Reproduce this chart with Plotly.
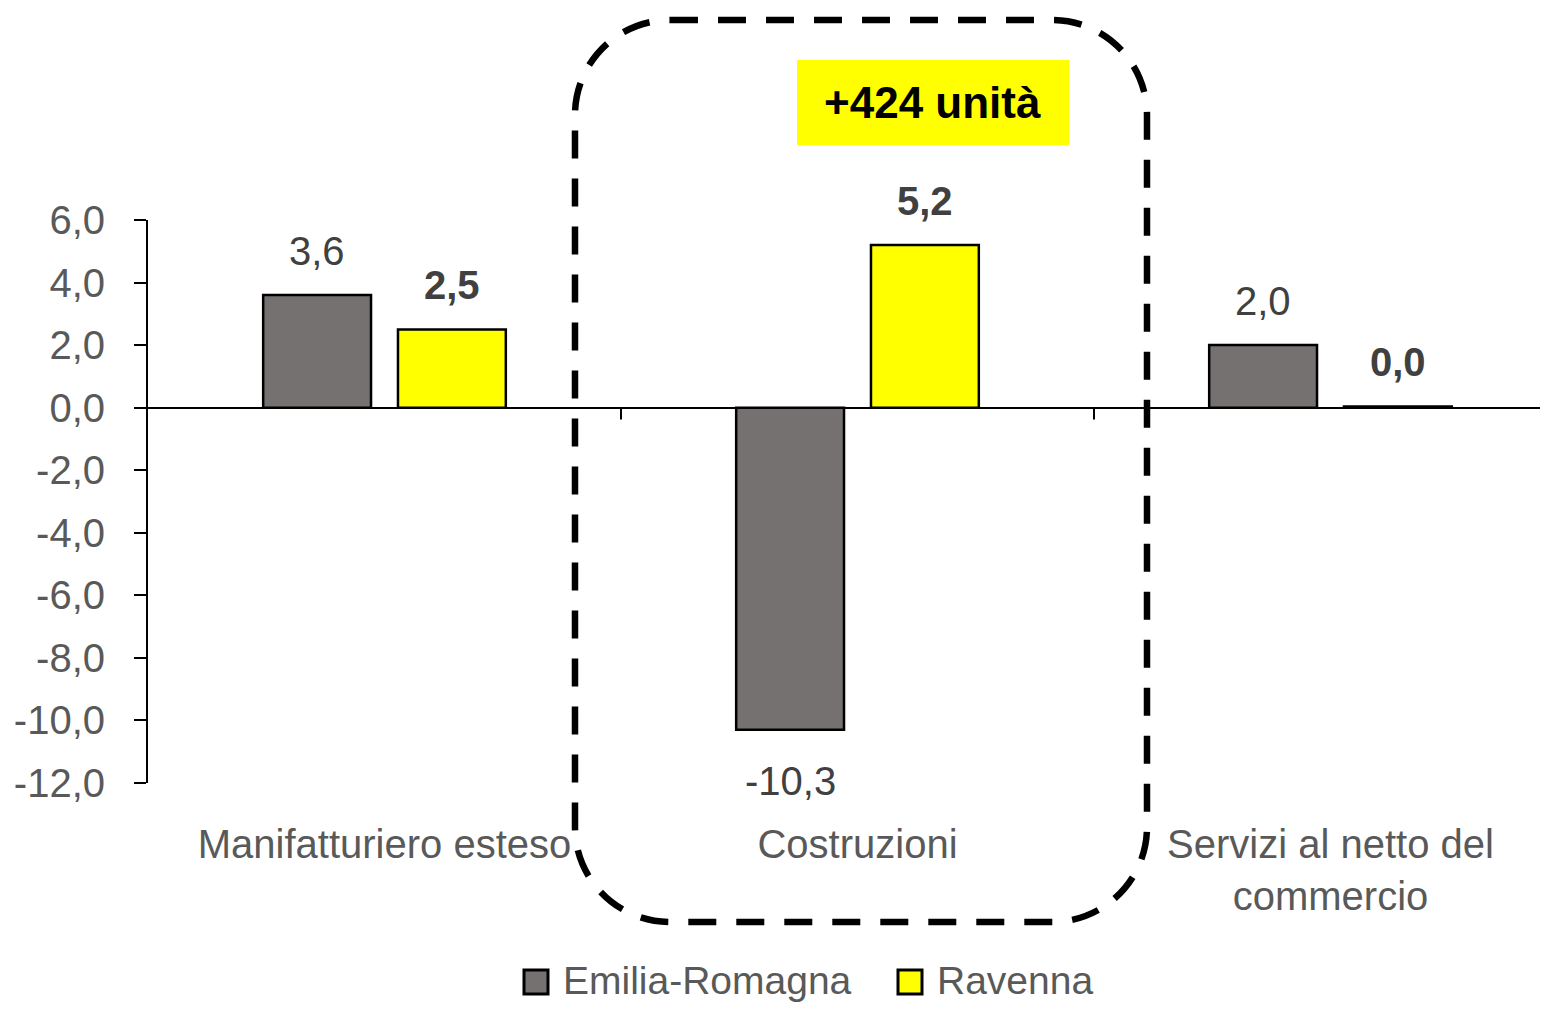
import plotly.graph_objects as go

# ---------------- data ----------------
categories = ["Manifatturiero esteso", "Costruzioni", "Servizi al netto del<br>commercio"]
series_names = ["Emilia-Romagna", "Ravenna"]
emilia_romagna = [3.6, -10.3, 2.0]
ravenna = [2.5, 5.2, 0.04]
y_tick_values = [6, 4, 2, 0, -2, -4, -6, -8, -10, -12]
y_tick_labels = ["6,0", "4,0", "2,0", "0,0", "-2,0", "-4,0", "-6,0", "-8,0", "-10,0", "-12,0"]
callout_text = "+424 unità"

# ---------------- styling ----------------
FONT = "Liberation Sans, Arial, sans-serif"
FS = 40
OFF = 8  # page body margin
W, H = 1532, 996
ML, MR, MT, MB = 140, 0, 212, 221
PW, PH = W - ML - MR, H - MT - MB
ER_COLOR = "#767171"
RA_COLOR = "#FFFF00"
TICK_COLOR = "#595959"
LABEL_COLOR = "#404040"
series_colors = [ER_COLOR, RA_COLOR]


def fmt(v):
    return f"{v:.1f}".replace(".", ",")


def px(x):  # screenshot pixel -> paper x
    return (x - OFF - ML) / PW


def py(y):  # screenshot pixel -> paper y
    return (H - MB - (y - OFF)) / PH


fig = go.Figure()
for name, vals, color in zip(series_names, [emilia_romagna, ravenna], series_colors):
    fig.add_trace(go.Bar(
        x=categories, y=vals, name=name,
        marker=dict(color=color, line=dict(color="black", width=2.5)),
        showlegend=False, hoverinfo="skip",
    ))

annotations = []
shapes = []
slot_px = 135
for vals, sign, bold in [(emilia_romagna, -1, False), (ravenna, 1, True)]:
    for c, v in zip(categories, vals):
        t = fmt(v)
        annotations.append(dict(
            x=c, y=v, xref="x", yref="y", showarrow=False,
            text=f"<b>{t}</b>" if bold else t,
            xshift=sign * slot_px / 2,
            yshift=44 if v >= 0 else -51,
            yanchor="middle", xanchor="center",
            font=dict(family=FONT, size=FS, color=LABEL_COLOR),
        ))

# callout
annotations.append(dict(
    x=px(933), y=py(103), xref="paper", yref="paper", showarrow=False,
    text=f"<b>{callout_text}</b>", xanchor="center", yanchor="middle",
    font=dict(family=FONT, size=44, color="black"),
))
shapes.append(dict(type="rect", xref="paper", yref="paper",
                   x0=px(797), x1=px(1069), y0=py(145), y1=py(60),
                   fillcolor=RA_COLOR, line=dict(width=0), layer="below"))

# legend (drawn manually so the swatches match the original size)
legend_items_x = [524, 898]
for name, color, lx in zip(series_names, series_colors, legend_items_x):
    shapes.append(dict(type="rect", xref="paper", yref="paper",
                       x0=px(lx), x1=px(lx + 24), y0=py(994), y1=py(970),
                       fillcolor=color, line=dict(color="black", width=3)))
    annotations.append(dict(
        x=px(lx + 37), y=py(980), xref="paper", yref="paper", showarrow=False,
        text=name, xanchor="left", yanchor="middle",
        font=dict(family=FONT, size=39, color=TICK_COLOR),
    ))

# dashed rounded rectangle
L, R, T, B, r = 575, 1147, 20, 922, 95
k = 0.5523 * r


def P(x, y):
    return f"{px(x):.5f},{py(y):.5f}"


path = (
    f"M{P(L + r, T)} L{P(R - r, T)} "
    f"C{P(R - r + k, T)} {P(R, T + r - k)} {P(R, T + r)} "
    f"L{P(R, B - r)} "
    f"C{P(R, B - r + k)} {P(R - r + k, B)} {P(R - r, B)} "
    f"L{P(L + r, B)} "
    f"C{P(L + r - k, B)} {P(L, B - r + k)} {P(L, B - r)} "
    f"L{P(L, T + r)} "
    f"C{P(L, T + r - k)} {P(L + r - k, T)} {P(L + r, T)} Z"
)
shapes.append(dict(type="path", xref="paper", yref="paper", path=path,
                   line=dict(color="black", width=6.5, dash="28px,20px"),
                   fillcolor="rgba(0,0,0,0)"))

# category boundary ticks on the zero line
for i in range(len(categories) - 1):
    shapes.append(dict(type="line", xref="x", yref="y",
                       x0=i + 0.5, x1=i + 0.5, y0=0, y1=-0.38,
                       line=dict(color="black", width=2)))

fig.update_layout(
    width=W, height=H,
    margin=dict(l=ML, r=MR, t=MT, b=MB, pad=0),
    paper_bgcolor="white", plot_bgcolor="white",
    barmode="group", bargap=0.43, bargroupgap=0.2,
    font=dict(family=FONT, size=FS, color=TICK_COLOR),
    showlegend=False,
    annotations=annotations,
    shapes=shapes,
)
fig.update_xaxes(
    type="category", range=[-0.5, -0.5 + PW / 473.0],
    showline=False, showgrid=False, zeroline=False, ticks="",
    tickfont=dict(family=FONT, size=FS, color=TICK_COLOR),
    ticklabelstandoff=34, automargin=False,
)
fig.update_yaxes(
    range=[-12, 6], tickvals=y_tick_values, ticktext=y_tick_labels,
    showline=True, linecolor="black", linewidth=2,
    ticks="outside", ticklen=12, tickwidth=2, tickcolor="black",
    showgrid=False, zeroline=True, zerolinecolor="black", zerolinewidth=2,
    tickfont=dict(family=FONT, size=FS, color=TICK_COLOR),
    ticklabelstandoff=21, automargin=False,
)

fig.write_html("out.html")
